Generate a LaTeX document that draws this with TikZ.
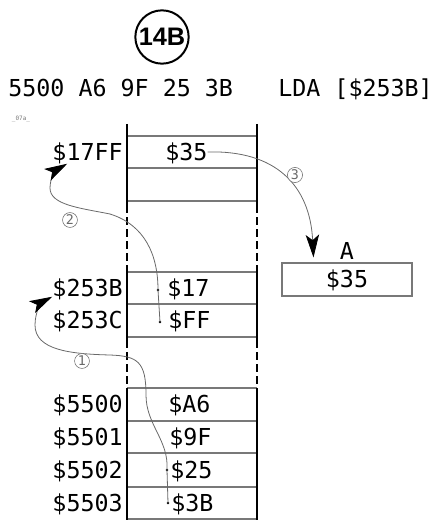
\documentclass[tikz,border=0pt]{standalone}
\usepackage{fontspec}
\setmainfont{DejaVu Sans Mono}
\newfontfamily\tagfont{Liberation Sans}
\usetikzlibrary{arrows.meta,positioning,calc}
\definecolor{wire}{RGB}{105,105,105}
\definecolor{rule}{RGB}{120,120,120}

\begin{document}
\begin{tikzpicture}[x=0.75pt,y=-0.75pt,
  >={Stealth[length=17pt,width=10pt,inset=4pt,black]},
  txt/.style={font=\fontsize{17.5}{20}\selectfont,inner sep=0pt,
              text height=12.7pt,text depth=0pt},
  addr/.style={txt,anchor=east},
  val/.style={txt,anchor=west},
  wall/.style={line width=1.4pt},
  gap/.style={wall,dash pattern=on 6pt off 3pt},
  num/.style={draw=wire,circle,inner sep=0.6pt,fill=white,text=wire,
              font=\fontsize{10}{11}\selectfont},
  link/.style={->,draw=wire,line width=0.6pt},
  pin/.style={circle,fill=black,inner sep=0pt,minimum size=2.2pt}]
  \useasboundingbox (0,0) rectangle (442,520);

  % header
  \node[draw,circle,line width=1.5pt,minimum size=40pt,inner sep=0pt,
        font=\tagfont\bfseries\fontsize{19}{21}\selectfont] (tag) at (162,37) {14B};
  \node[txt,anchor=west] (code) at (8,88.5) {5500 A6 9F 25 3B};
  \node[txt,anchor=west] (instr) at (278,88.5) {LDA [\$253B]};
  \node[font=\fontsize{4.5}{5}\selectfont,text=rule,inner sep=0pt] (stamp) at (21,119) {\_07a\_};

  % memory column
  \foreach \y in {136,168,201,272,304,337,388,421,453,487,519}
    \draw[rule,line width=0.8pt] (127,\y) -- (257,\y);
  \foreach \x in {127,257} {
    \draw[wall] (\x,124) -- (\x,205);
    \draw[gap] (\x,205) -- (\x,270);
    \draw[wall] (\x,270) -- (\x,340);
    \draw[gap] (\x,340) -- (\x,388);
    \draw[wall] (\x,388) -- (\x,520);
  }

  % addresses
  \node[addr] (a17FF) at (123,152) {\$17FF};
  \node[addr] (a253B) at (123,288) {\$253B};
  \node[addr] (a253C) at (123,320.5) {\$253C};
  \node[addr] (a5500) at (123,404.5) {\$5500};
  \node[addr] (a5501) at (123,437) {\$5501};
  \node[addr] (a5502) at (123,470) {\$5502};
  \node[addr] (a5503) at (123,503) {\$5503};

  % contents
  \node[val] (v35) at (165,152) {\$35};
  \node[val] (v17) at (167,288) {\$17};
  \node[val] (vFF) at (168,320.5) {\$FF};
  \node[val] (vA6) at (168,404.5) {\$A6};
  \node[val] (v9F) at (169,437) {\$9F};
  \node[val] (v25) at (170,470) {\$25};
  \node[val] (v3B) at (171,503) {\$3B};
  \node[pin] (d17) at (158,290) {};
  \node[pin] (dFF) at (160,322) {};
  \node[pin] (d25) at (167,470) {};
  \node[pin] (d3B) at (168,503) {};

  % accumulator
  \node[txt,draw=rule,line width=0.8pt,minimum width=97.5pt,minimum height=24.75pt,
        text height=12.7pt] (regA) at (347,279.5) {\$35};
  \node[txt,above=2pt of regA] (nameA) {A};

  % steps
  \draw[link] (d3B.center) -- (d25.center)
    .. controls (169,440) and (146,425) .. (146,395)
    .. controls (146,362) and (138,356) .. (110,355)
    .. controls (70,354) and (35,350) .. (35,325)
    .. controls (35,312) and (42,302) .. (a253B.south west);
  \draw[link] (dFF.center) -- (d17.center)
    .. controls (158,255) and (145,225) .. (110,214)
    .. controls (80,208) and (50,205) .. (50,188)
    .. controls (50,178) and (56,170) .. ($(a17FF.south west)+(15,3)$);
  \draw[link] (v35.east)
    .. controls (275,150) and (310,185) .. ($(regA.north west)+(32,-5)$);
  \node[num] (s1) at (82,361) {1};
  \node[num] (s2) at (70,220) {2};
  \node[num] (s3) at (295,175) {3};
\end{tikzpicture}
\end{document}
